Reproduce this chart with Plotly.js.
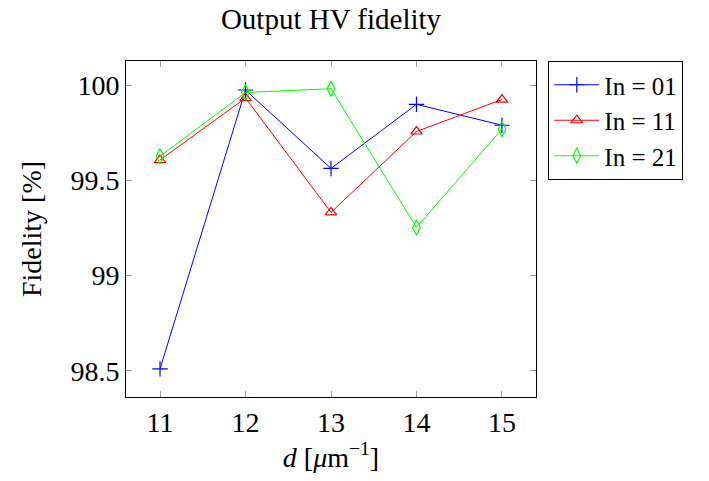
<!DOCTYPE html>
<html><head><meta charset="utf-8">
<script src="https://cdn.plot.ly/plotly-3.0.1.min.js"></script>
<style>html,body{margin:0;padding:0;background:#fff}#chart{width:709px;height:481px}</style>
</head><body><div id="chart"></div>
<script>
const dValues = [11, 12, 13, 14, 15];
const seriesNames = ['In = 01', 'In = 11', 'In = 21'];
const fidelityIn01 = [98.51, 99.975, 99.563, 99.90, 99.79];
const fidelityIn11 = [99.607, 99.933, 99.332, 99.757, 99.925];
const fidelityIn21 = [99.627, 99.962, 99.982, 99.253, 99.77];
const yTicks = [98.5, 99, 99.5, 100];
const yTickLabels = ['98.5', '99', '99.5', '100'];

const colors = ['#0000ff', '#ff0000', '#00ff00'];
const symbols = ['cross-thin-open', 'triangle-up-open', 'diamond-tall-open'];
const sizes = [11, 10, 11];
const data = [fidelityIn01, fidelityIn11, fidelityIn21].map((ys, i) => ({
  x: dValues, y: ys, name: seriesNames[i], type: 'scatter', mode: 'lines+markers',
  line: {color: colors[i], width: 1},
  marker: {symbol: symbols[i], size: sizes[i], color: colors[i], line: {color: colors[i], width: 1.2}}
}));
const F = (s) => ({family: 'Liberation Serif', size: s, color: '#000'});
const layout = {
  width: 709, height: 481,
  margin: {l: 126, r: 173, t: 61, b: 84},
  paper_bgcolor: '#fff', plot_bgcolor: '#fff',
  font: F(28),
  title: {text: 'Output HV fidelity', xref: 'paper', x: 0.5, xanchor: 'center', yref: 'container', y: 0.96, yanchor: 'middle', font: F(29)},
  xaxis: {
    range: [10.602, 15.398], tickvals: dValues, ticktext: dValues.map(String),
    ticks: 'inside', ticklen: 6, tickcolor: '#999', tickwidth: 1,
    showline: true, linecolor: '#000', linewidth: 1, mirror: 'ticks',
    showgrid: false, zeroline: false, tickfont: F(28),
    title: {text: '<i>d</i> [<i>μ</i>m<sup>−1</sup>]', font: F(28), standoff: 10}
  },
  yaxis: {
    range: [98.362, 100.1275], tickvals: yTicks, ticktext: yTickLabels,
    ticks: 'inside', ticklen: 6, tickcolor: '#999', tickwidth: 1,
    showline: true, linecolor: '#000', linewidth: 1, mirror: 'ticks',
    showgrid: false, zeroline: false, tickfont: F(28),
    title: {text: 'Fidelity [%]', font: F(28), standoff: 20}
  },
  legend: {
    x: 1.03, xanchor: 'left', y: 1, yanchor: 'top',
    bordercolor: '#000', borderwidth: 1, bgcolor: '#fff',
    font: F(25), itemwidth: 45, tracegroupgap: 0
  }
};
Plotly.newPlot('chart', data, layout, {displayModeBar: false, staticPlot: true});
</script></body></html>
